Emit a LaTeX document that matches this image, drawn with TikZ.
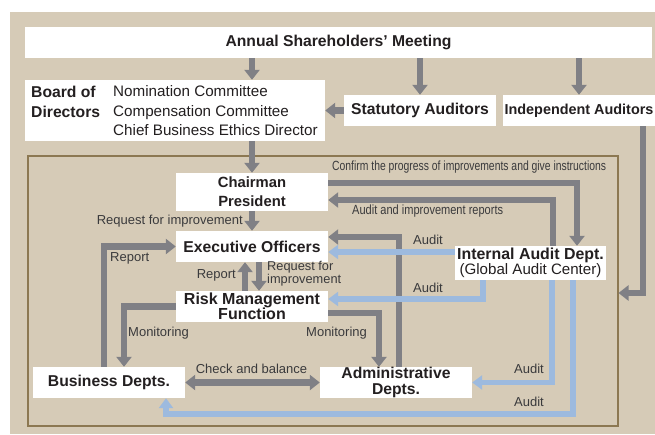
\documentclass[tikz,border=0pt]{standalone}
\usepackage{fontspec}
\setmainfont{Liberation Sans}
\newfontfamily\narrowA{Liberation Sans}[FakeStretch=0.78]
\newfontfamily\narrowB{Liberation Sans}[FakeStretch=0.83]
\usetikzlibrary{arrows.meta}

\definecolor{paneltan}{HTML}{D6CBB7}
\definecolor{framebrown}{HTML}{8C7852}
\definecolor{arrowgray}{HTML}{808085}
\definecolor{auditblue}{HTML}{9DBADE}
\definecolor{ink}{HTML}{231F20}
\definecolor{labelink}{HTML}{3A3A3C}

\newcommand\bxfont{\fontsize{15.7}{17}\selectfont\bfseries}
\newcommand\lbfont{\fontsize{13}{14}\selectfont}

\tikzset{
  bx/.style={fill=white, inner sep=0pt, minimum width=152pt, minimum height=31pt,
    align=center, text=ink, font=\bxfont},
  lb/.style={inner sep=0pt, text=labelink, font=\lbfont},
  garrow/.style={draw=arrowgray, line width=6.5pt, -{Triangle[length=10pt,width=15pt]}},
  barrow/.style={draw=auditblue, line width=5.5pt, -{Triangle[length=10pt,width=14pt]}},
}

\begin{document}
\begin{tikzpicture}[x=1pt, y=-1pt]
\useasboundingbox (0,0) rectangle (655,434);
\fill[paneltan] (10,12) rectangle (655,434);

% executive area frame
\node[draw=framebrown, line width=2pt, inner sep=0pt, minimum width=590pt,
      minimum height=270pt] (frame) at (322.5,291) {};

% governance bodies
\node[bx, minimum width=627pt] (ann) at (338.5,42.5) {Annual Shareholders’ Meeting};
\node[bx, minimum width=300pt, minimum height=61pt] (bod) at (175,110.5) {};
\node[anchor=west, inner sep=0pt, align=left, text=ink,
      font=\fontsize{15.7}{20}\selectfont\bfseries] (bodname) at (31,101.5) {Board of\\Directors};
\node[anchor=west, inner sep=0pt, align=left, text=ink,
      font=\fontsize{15.2}{19.5}\selectfont] (bodcomm) at (113,111)
      {Nomination Committee\\Compensation Committee\\Chief Business Ethics Director};
\node[bx] (sta) at (420,110.5) {Statutory Auditors};
\node[bx, font=\fontsize{14.4}{17}\selectfont\bfseries] (ind) at (579,110.5) {Independent Auditors};

% executive organisation
\node[bx, minimum height=38pt, font=\fontsize{14.8}{19}\selectfont\bfseries] (chp) at (252,192) {Chairman\\President};
\node[bx] (exo) at (252,246.5) {Executive Officers};
\node[bx, font=\fontsize{16}{15}\selectfont\bfseries] (rmf) at (252,306.5) {Risk Management\\Function};
\node[bx] (bus) at (109,382.5) {Business Depts.};
\node[bx, font=\fontsize{15.7}{16}\selectfont\bfseries] (adm) at (396,382.5) {Administrative\\Depts.};
\node[bx, minimum width=151pt, minimum height=34pt, font=\fontsize{15.9}{15}\selectfont\bfseries] (iad) at (530.5,263)
      {Internal Audit Dept.\\{\mdseries\fontsize{15.1}{15}\selectfont (Global Audit Center)}};

% helper points
\coordinate (iadw) at ([yshift=11pt]iad.west);
\coordinate (iadb) at ([xshift=42.5pt]iad.south);
\coordinate (auditfloor) at (0,414);

% gray reporting / instruction lines
\draw[garrow] (ann.south -| chp.north) -- (bod.north -| chp.north);
\draw[garrow] (ann.south -| sta.north) -- (sta.north);
\draw[garrow] (ann.south -| ind.north) -- (ind.north);
\draw[garrow] (sta.west) -- (sta.west -| bod.east);
\draw[garrow] (bod.south -| chp.north) -- (chp.north);
\draw[garrow] ([xshift=64pt]ind.south) |- (frame.east |- 0,293);
\draw[garrow] (chp.south) -- (exo.north);
\draw[garrow] ([xshift=-5pt]bus.north) |- (exo.west);
\draw[garrow] ([xshift=-7pt]rmf.north) -- ([xshift=-7pt]exo.south);
\draw[garrow] ([xshift=7pt]exo.south) -- ([xshift=7pt]rmf.north);
\draw[garrow] (rmf.west) -| ([xshift=15pt]bus.north);
\draw[garrow] ([yshift=-6.5pt]rmf.east) -| ([xshift=-17pt]adm.north);
\draw[garrow] ([xshift=3pt]adm.north) |- ([yshift=9.5pt]exo.east);
\draw[garrow, {Triangle[length=10pt,width=15pt]}-{Triangle[length=10pt,width=15pt]}] (bus.east) -- (adm.west);
\draw[garrow] ([yshift=9pt]chp.east) -| ([xshift=46.5pt]iad.north);
\draw[garrow] ([xshift=22.5pt]iad.north) |- ([yshift=-8pt]chp.east);

% blue audit lines
\draw[barrow] (iadw) -- (iadw -| exo.east);
\draw[barrow] ([xshift=-47.5pt]iad.south) |- ([yshift=7.5pt]rmf.east);
\draw[barrow] ([xshift=21.5pt]iad.south) |- (adm.east);
\draw[barrow] (iadb) -- (iadb |- auditfloor) -| ([xshift=57pt]bus.south);

% labels
\node[lb, font=\fontsize{13.3}{14}\narrowA, anchor=west] (lconfirm) at (332,167)
      {Confirm the progress of improvements and give instructions};
\node[lb, font=\fontsize{13.3}{14}\narrowB, anchor=west] (lreports) at (352,211)
      {Audit and improvement reports};
\node[lb, anchor=east] (lreqchp) at (243,221) {Request for improvement};
\node[lb, anchor=west] (lrep1) at (110,258) {Report};
\node[lb, anchor=east] (lrep2) at (236,275) {Report};
\node[lb, anchor=west, align=left, font=\fontsize{12.8}{11.5}\selectfont] (lreqrmf) at (267,274)
      {Request for\\improvement};
\node[lb, anchor=west] (laud1) at (413,240) {Audit};
\node[lb, anchor=west] (laud2) at (413,288) {Audit};
\node[lb, anchor=west] (lmon1) at (128,333) {Monitoring};
\node[lb, anchor=west] (lmon2) at (306,333) {Monitoring};
\node[lb] (lcheck) at (251.5,369) {Check and balance};
\node[lb, anchor=west] (laud3) at (514,369) {Audit};
\node[lb, anchor=west] (laud4) at (514,402) {Audit};
\end{tikzpicture}
\end{document}
